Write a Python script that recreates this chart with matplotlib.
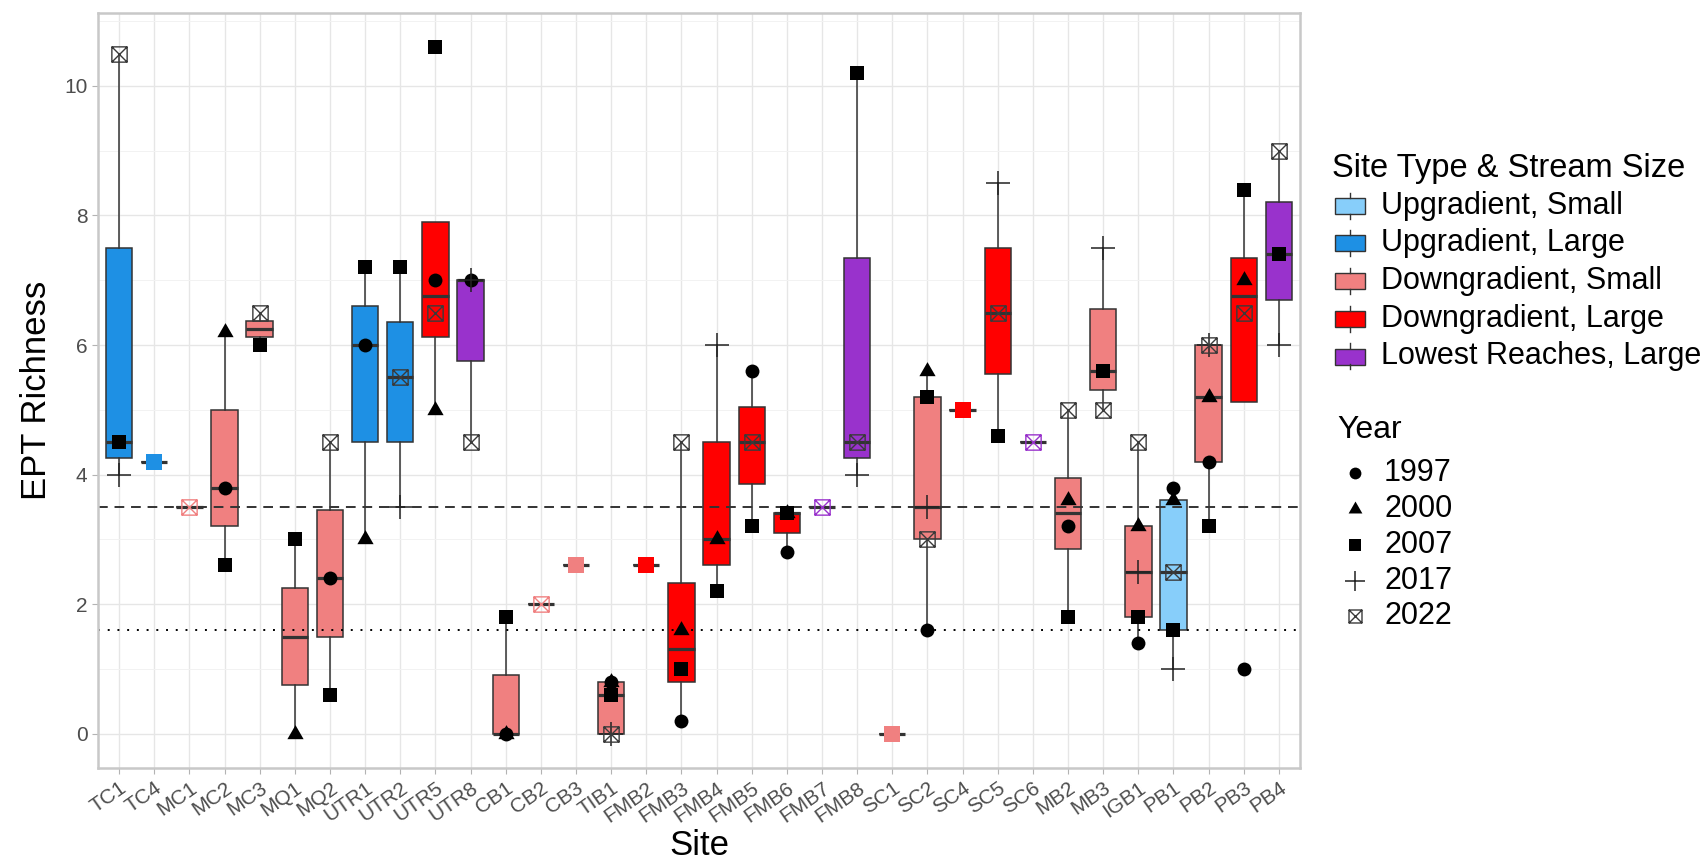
import numpy as np
import matplotlib.pyplot as plt
from matplotlib.path import Path
from matplotlib.patches import Rectangle
from matplotlib.ticker import MultipleLocator

plt.rcParams['font.family'] = ['Liberation Sans', 'DejaVu Sans']

nan = np.nan

# sites in plotting order and their site type / stream size group
sites = ['TC1', 'TC4', 'MC1', 'MC2', 'MC3', 'MQ1', 'MQ2', 'UTR1', 'UTR2', 'UTR5',
         'UTR8', 'CB1', 'CB2', 'CB3', 'TIB1', 'FMB2', 'FMB3', 'FMB4', 'FMB5', 'FMB6',
         'FMB7', 'FMB8', 'SC1', 'SC2', 'SC4', 'SC5', 'SC6', 'MB2', 'MB3', 'IGB1',
         'PB1', 'PB2', 'PB3', 'PB4']
site_group = [1, 1, 2, 2, 2, 2, 2, 1, 1, 3,
              4, 2, 2, 2, 2, 3, 3, 3, 3, 3,
              4, 4, 2, 2, 3, 3, 4, 2, 2, 2,
              0, 2, 3, 4]

group_labels = ['Upgradient, Small', 'Upgradient, Large', 'Downgradient, Small',
                'Downgradient, Large', 'Lowest Reaches, Large']
group_colors = ['#87CEFA', '#1E90E4', '#F08080', '#FF0000', '#9932CC']

# EPT richness by sampling year (nan = site not sampled)
ept_1997 = [nan, nan, nan, 3.8, nan, nan, 2.4, 6.0, nan, 7.0,
            7.0, 0.0, nan, nan, 0.8, nan, 0.2, nan, 5.6, 2.8,
            nan, nan, nan, 1.6, nan, nan, nan, 3.2, nan, 1.4,
            3.8, 4.2, 1.0, nan]
ept_2000 = [nan, nan, nan, 6.2, nan, 0.0, nan, 3.0, nan, 5.0,
            nan, 0.0, nan, nan, 0.8, nan, 1.6, 3.0, nan, 3.4,
            nan, nan, nan, 5.6, nan, nan, nan, 3.6, nan, 3.2,
            3.6, 5.2, 7.0, nan]
ept_2007 = [4.5, 4.2, nan, 2.6, 6.0, 3.0, 0.6, 7.2, 7.2, 10.6,
            nan, 1.8, nan, 2.6, 0.6, 2.6, 1.0, 2.2, 3.2, 3.4,
            nan, 10.2, 0.0, 5.2, 5.0, 4.6, nan, 1.8, 5.6, 1.8,
            1.6, 3.2, 8.4, 7.4]
ept_2017 = [4.0, nan, nan, nan, nan, nan, nan, nan, 3.5, nan,
            7.0, nan, nan, nan, 0.0, nan, nan, 6.0, nan, nan,
            nan, 4.0, nan, 3.5, nan, 8.5, nan, nan, 7.5, 2.5,
            1.0, 6.0, nan, 6.0]
ept_2022 = [10.5, nan, 3.5, nan, 6.5, nan, 4.5, nan, 5.5, 6.5,
            4.5, nan, 2.0, nan, 0.0, nan, 4.5, nan, 4.5, nan,
            3.5, 4.5, nan, 3.0, nan, 6.5, 4.5, 5.0, 5.0, 4.5,
            2.5, 6.0, 6.5, 9.0]

years = ['1997', '2000', '2007', '2017', '2022']
year_values = [ept_1997, ept_2000, ept_2007, ept_2017, ept_2022]

hline_dashed = 3.5
hline_dotted = 1.6

# square with a cross inside (ggplot shape 7)
box_x = Path([(-1, -1), (1, -1), (1, 1), (-1, 1), (-1, -1), (-1, -1), (1, 1), (-1, 1), (1, -1)],
             [Path.MOVETO, Path.LINETO, Path.LINETO, Path.LINETO, Path.CLOSEPOLY,
              Path.MOVETO, Path.LINETO, Path.MOVETO, Path.LINETO])
tri = Path([(-1, -0.577), (1, -0.577), (0, 1.155), (-1, -0.577)],
           [Path.MOVETO, Path.LINETO, Path.LINETO, Path.CLOSEPOLY])

year_style = [
    dict(marker='o', ms=10, mfc='black', mec='black', mew=0),
    dict(marker=tri, ms=13.5, mfc='black', mec='black', mew=0),
    dict(marker='s', ms=10, mfc='black', mec='black', mew=0),
    dict(marker='+', ms=17, mfc='none', mec='#222222', mew=1.1),
    dict(marker=box_x, ms=11, mfc='none', mec='#3a3a3a', mew=1.0),
]

edge = '#333333'

fig = plt.figure(figsize=(17.01, 8.61), dpi=100)
ax = fig.add_axes([98 / 1701, 1 - 768 / 861, 1202 / 1701, 755.3 / 861])

xs = np.arange(1, len(sites) + 1)
vals = np.array(year_values, dtype=float)
site_data = [vals[:, i][~np.isnan(vals[:, i])] for i in range(len(sites))]

bp = ax.boxplot(site_data, positions=xs, widths=0.75, patch_artist=True,
                showfliers=False, showcaps=False, whis=1.5,
                boxprops=dict(edgecolor=edge, linewidth=1.1),
                whiskerprops=dict(color=edge, linewidth=1.1),
                medianprops=dict(color=edge, linewidth=2.3),
                zorder=2)
for patch, g in zip(bp['boxes'], site_group):
    patch.set_facecolor(group_colors[g])

ax.axhline(hline_dashed, color='#333333', lw=1.4, ls=(0, (5, 3.5)), zorder=2.5)
ax.axhline(hline_dotted, color='black', lw=1.4, ls=(0, (1, 4)), zorder=2.5)

# yearly observations; sites with a single sample get their group colour
n_obs = np.array([len(d) for d in site_data])
for yv, st in zip(year_values, year_style):
    yv = np.array(yv, dtype=float)
    multi = (~np.isnan(yv)) & (n_obs > 1)
    ax.plot(xs[multi], yv[multi], ls='none', zorder=3, **st)
    single = (~np.isnan(yv)) & (n_obs == 1)
    for i in np.where(single)[0]:
        c = group_colors[site_group[i]]
        s = dict(st)
        if s['mfc'] == 'none':
            s['mec'] = c
        else:
            s.update(mfc=c, mec=c, ms=s['ms'] * 1.15)
        ax.plot(xs[i], yv[i], ls='none', zorder=3, **s)

ax.set_xlim(0.4, len(sites) + 0.6)
ax.set_ylim(-0.53, 11.13)
ax.set_xticks(xs)
ax.set_xticklabels(sites, rotation=35, ha='right', va='top', rotation_mode='anchor')
ax.yaxis.set_major_locator(MultipleLocator(2))
ax.yaxis.set_minor_locator(MultipleLocator(1))
ax.tick_params(axis='both', which='major', labelsize=15, labelcolor='#4d4d4d',
               color='#b3b3b3', length=4, width=0.8)
ax.tick_params(axis='y', which='minor', length=0)
ax.grid(True, which='major', color='#e6e6e6', lw=1.0, zorder=0)
ax.grid(True, which='minor', axis='y', color='#f2f2f2', lw=0.7, zorder=0)
ax.set_axisbelow(True)
for sp in ax.spines.values():
    sp.set_color('#c8c8c8')
    sp.set_linewidth(1.8)

ax.set_xlabel('Site', fontsize=25, labelpad=2)
ax.set_ylabel('EPT Richness', fontsize=25, labelpad=8)

# legends, laid out in figure pixels
lax = fig.add_axes([0, 0, 1, 1])
lax.set_xlim(0, 1701)
lax.set_ylim(861, 0)
lax.axis('off')

lax.text(1332, 168, 'Site Type & Stream Size', fontsize=23.5, va='center', ha='left')
row_y = 205.7
for lab, c in zip(group_labels, group_colors):
    lax.add_patch(Rectangle((1335, row_y - 8), 30, 16, facecolor=c, edgecolor=edge, lw=1.0))
    lax.plot([1350, 1350], [row_y - 13, row_y - 8], color=edge, lw=1.0)
    lax.plot([1350, 1350], [row_y + 8, row_y + 13], color=edge, lw=1.0)
    lax.text(1381, row_y, lab, fontsize=22, va='center', ha='left')
    row_y += 37.7

lax.text(1337, 430, 'Year', fontsize=23, va='center', ha='left')
row_y = 473.3
for yr, st in zip(years, year_style):
    s = dict(st)
    s['ms'] = s['ms'] * 0.85
    lax.plot(1355, row_y, ls='none', **s)
    lax.text(1384, row_y, yr, fontsize=22, va='center', ha='left')
    row_y += 35.8

fig.savefig('out.png', dpi=100)
